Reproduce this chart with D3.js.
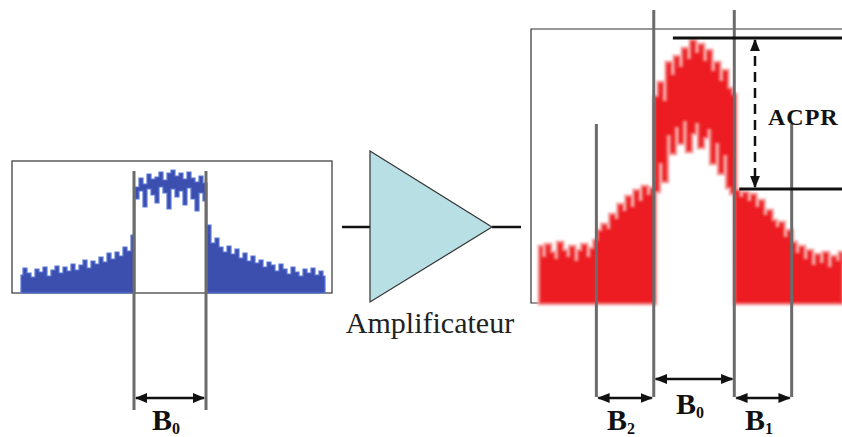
<!DOCTYPE html>
<html>
<head>
<meta charset="utf-8">
<script src="https://cdn.jsdelivr.net/npm/d3@7"></script>
<style>
  body { margin: 0; background: #fff; }
  svg { display: block; }
</style>
</head>
<body>
<script>
// Input spectrum (blue), level in dB, one value per frequency bin
const blueUpper = [-57, -53.5, -56, -58, -54, -55.5, -53, -57.5, -54.5, -52.5,
  -56, -53, -55, -51.5, -54.5, -52, -49.5, -53.5, -50, -51.5,
  -48, -50.5, -46, -49, -45.5, -47.5, -43, -45, -37, -13,
  -8.5, -11.5, -6.5, -9, -8, -5.5, -9.5, -6, -4.5, -7.5,
  -6, -9, -5.5, -8.5, -10.5, -7.5, -11, -32, -41, -38.5,
  -43, -45.5, -42.5, -46.5, -44, -48.5, -46, -50, -47.5, -51,
  -49.5, -53, -50.5, -52, -55, -51.5, -54, -56.5, -53, -55.5,
  -57.5, -54, -56, -53.5, -57, -55, -57.5];
const blueLower = [-66, -66, -66, -66, -66, -66, -66, -66, -66, -66,
  -66, -66, -66, -66, -66, -66, -66, -66, -66, -66,
  -66, -66, -66, -66, -66, -66, -66, -66, -66, -19,
  -15, -23, -14, -17, -21, -13, -16, -24, -14, -18,
  -15, -22, -13.5, -19, -25, -16, -20, -66, -66, -66,
  -66, -66, -66, -66, -66, -66, -66, -66, -66, -66,
  -66, -66, -66, -66, -66, -66, -66, -66, -66, -66,
  -66, -66, -66, -66, -66, -66, -66];

// Output spectrum (red), level in dB
const redUpper = [-54, -56.5, -53.5, -55.5, -57, -53, -55, -56.5, -54, -57.5,
  -55, -53.5, -56.5, -54.5, -52.5, -50, -48.5, -49.5, -46, -47,
  -43.5, -45, -41.5, -44, -40, -42.5, -39, -41, -39.5, -16.5,
  -13, -17.5, -8, -11, -6.5, -9, -4.5, -7, -2.5, -5.5,
  -3.5, -7.5, -5, -10, -8, -12.5, -10, -14.5, -16, -40,
  -41.5, -40.5, -42.5, -41, -44, -42.5, -46, -45, -47.5, -49,
  -48, -51.5, -50, -53, -55.5, -54, -57, -55, -58.5, -56,
  -58, -55.5, -59, -56.5, -57.5, -55.5];
const redLower = [-68, -68, -68, -68, -68, -68, -68, -68, -68, -68,
  -68, -68, -68, -68, -68, -68, -68, -68, -68, -68,
  -68, -68, -68, -68, -68, -68, -68, -68, -68, -40,
  -33, -37.5, -26, -30.5, -24, -28, -22.5, -30, -25.5, -23,
  -29, -26.5, -24.5, -33, -28, -35.5, -31, -39, -40.5, -68,
  -68, -68, -68, -68, -68, -68, -68, -68, -68, -68,
  -68, -68, -68, -68, -68, -68, -68, -68, -68, -68,
  -68, -68, -68, -68, -68, -68];

// Channel edges (frequency bin index)
const blueEdges = [28.25, 46.25];
const redEdges = [14, 28.25, 48.25, 62.5];
// ACPR reference levels (dB) and where their lines start (bin)
const acprLevels = [-1.75, -39.5];
const acprStart = [33, 49.5];

const width = 842;
const height = 437;
const grey = "#6b6b6b";

const svg = d3.select("body").append("svg")
    .attr("width", width)
    .attr("height", height)
    .attr("viewBox", [0, 0, width, height]);

const defs = svg.append("defs");
defs.append("filter").attr("id", "soft")
  .append("feGaussianBlur").attr("stdDeviation", 0.6);
defs.append("filter").attr("id", "blur")
  .append("feGaussianBlur").attr("stdDeviation", 1.1);

defs.append("marker")
    .attr("id", "arr")
    .attr("viewBox", "0 -5 10 10")
    .attr("refX", 9)
    .attr("refY", 0)
    .attr("markerWidth", 5)
    .attr("markerHeight", 5)
    .attr("markerUnits", "strokeWidth")
    .attr("orient", "auto-start-reverse")
  .append("path")
    .attr("d", "M0,-4L10,0L0,4Z")
    .attr("fill", "#111");

// Scales
const xBlue = d3.scaleLinear().domain([0, blueUpper.length - 1]).range([21, 325]);
const yBlue = d3.scaleLinear().domain([-66, 0]).range([293, 161]);
const xRed = d3.scaleLinear().domain([0, redUpper.length - 1]).range([540, 842]);
const yRed = d3.scaleLinear().domain([-68, 0]).range([303, 31]);

// Frames
svg.append("rect")
    .attr("x", 12).attr("y", 161).attr("width", 320).attr("height", 132)
    .attr("fill", "none").attr("stroke", "#333").attr("stroke-width", 1.2);
svg.append("path")
    .attr("d", "M842,29H531V303H545")
    .attr("fill", "none").attr("stroke", "#333").attr("stroke-width", 1.2);

// Blue spectrum
const blueArea = d3.area()
    .curve(d3.curveStep)
    .x((d, i) => xBlue(i))
    .y0((d, i) => yBlue(blueLower[i]))
    .y1(d => yBlue(d));
svg.append("path")
    .datum(blueUpper)
    .attr("d", blueArea)
    .attr("fill", "#3d4fae")
    .attr("stroke", "#5b7ad8")
    .attr("stroke-width", 1.2)
    .attr("filter", "url(#soft)");

// Red spectrum, blurred halo then body
const redArea = d3.area()
    .curve(d3.curveStep)
    .x((d, i) => xRed(i))
    .y0((d, i) => yRed(redLower[i]))
    .y1(d => yRed(d));
svg.append("path")
    .datum(redUpper)
    .attr("d", redArea)
    .attr("fill", "none")
    .attr("stroke", "#f6a8a8")
    .attr("stroke-width", 5)
    .attr("filter", "url(#blur)");
svg.append("path")
    .datum(redUpper)
    .attr("d", redArea)
    .attr("fill", "#ec1c24")
    .attr("stroke", "#ef4a4a")
    .attr("stroke-width", 1.2)
    .attr("filter", "url(#blur)");

// Channel edge lines
svg.append("g")
  .selectAll("line")
  .data(blueEdges)
  .join("line")
    .attr("x1", d => xBlue(d)).attr("x2", d => xBlue(d))
    .attr("y1", yBlue(-5)).attr("y2", 410)
    .attr("stroke", grey).attr("stroke-width", 3);

svg.append("g")
  .selectAll("line")
  .data(redEdges)
  .join("line")
    .attr("x1", d => xRed(d)).attr("x2", d => xRed(d))
    .attr("y1", (d, i) => (i === 0 || i === 3) ? yRed(-23.25) : 10)
    .attr("y2", 397)
    .attr("stroke", grey).attr("stroke-width", 3);

// ACPR level lines
svg.append("g")
  .selectAll("line")
  .data(acprLevels)
  .join("line")
    .attr("x1", (d, i) => xRed(acprStart[i])).attr("x2", width)
    .attr("y1", d => yRed(d)).attr("y2", d => yRed(d))
    .attr("stroke", "#111").attr("stroke-width", 3);

svg.append("line")
    .attr("x1", 755).attr("x2", 755)
    .attr("y1", yRed(acprLevels[0]) + 2).attr("y2", yRed(acprLevels[1]) - 2)
    .attr("stroke", "#111").attr("stroke-width", 2.5)
    .attr("stroke-dasharray", "10,6")
    .attr("marker-start", "url(#arr)")
    .attr("marker-end", "url(#arr)");

svg.append("text")
    .attr("x", 768).attr("y", 125)
    .attr("font-family", "Liberation Serif, serif")
    .attr("font-weight", "bold")
    .attr("font-size", 24)
    .attr("letter-spacing", 1)
    .attr("fill", "#111")
    .text("ACPR");

// Bandwidth arrows
const bands = [
  {a: xBlue(blueEdges[0]), b: xBlue(blueEdges[1]), y: 398, label: "B", sub: "0", ly: 430},
  {a: xRed(redEdges[0]), b: xRed(redEdges[1]), y: 398, label: "B", sub: "2", ly: 430},
  {a: xRed(redEdges[1]), b: xRed(redEdges[2]), y: 379, label: "B", sub: "0", ly: 414},
  {a: xRed(redEdges[2]), b: xRed(redEdges[3]), y: 398, label: "B", sub: "1", ly: 430}
];
const band = svg.append("g").selectAll("g").data(bands).join("g");
band.append("line")
    .attr("x1", d => d.a + 2).attr("x2", d => d.b - 2)
    .attr("y1", d => d.y).attr("y2", d => d.y)
    .attr("stroke", "#111").attr("stroke-width", 2.5)
    .attr("marker-start", "url(#arr)")
    .attr("marker-end", "url(#arr)");
const lbl = band.append("text")
    .attr("x", d => (d.a + d.b) / 2 - 4)
    .attr("y", d => d.ly)
    .attr("text-anchor", "middle")
    .attr("font-family", "Liberation Serif, serif")
    .attr("font-weight", "bold")
    .attr("font-size", 30)
    .attr("fill", "#111");
lbl.append("tspan").text(d => d.label);
lbl.append("tspan").attr("font-size", 16).attr("dy", 4).text(d => d.sub);

// Amplifier
svg.append("path")
    .attr("d", "M342,227H370M492,227H521")
    .attr("stroke", "#111").attr("stroke-width", 2.5);
svg.append("path")
    .attr("d", "M370,151L492,227L370,302Z")
    .attr("fill", "#b8dfe4")
    .attr("stroke", "#333")
    .attr("stroke-width", 1.2);
svg.append("text")
    .attr("x", 430).attr("y", 333)
    .attr("text-anchor", "middle")
    .attr("font-family", "Liberation Serif, serif")
    .attr("font-size", 30)
    .attr("fill", "#222")
    .text("Amplificateur");
</script>
</body>
</html>
